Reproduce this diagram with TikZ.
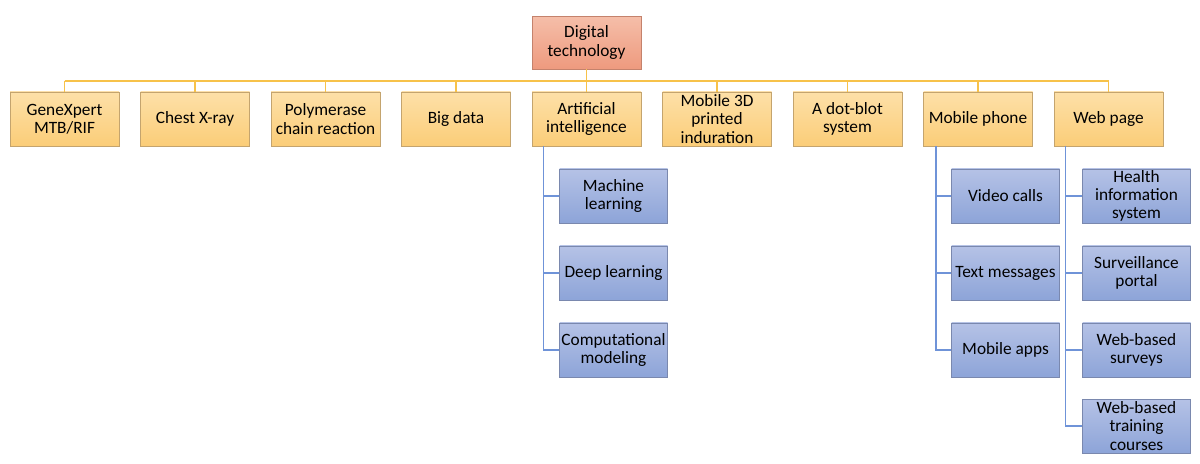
\documentclass[tikz,border=0pt]{standalone}
\usepackage{fontspec}
\setmainfont{Carlito}
\usepackage{tikz}
\usepackage{xcolor}
\usetikzlibrary{positioning,calc}
\definecolor{salmontop}{HTML}{F5BEA9}
\definecolor{salmonbot}{HTML}{EE9A7E}
\definecolor{salmonline}{HTML}{C4826C}
\definecolor{cattop}{HTML}{FDE0A8}
\definecolor{catbot}{HTML}{FBCD78}
\definecolor{catline}{HTML}{C4A46E}
\definecolor{subtop}{HTML}{B5C2E6}
\definecolor{subbot}{HTML}{8DA4D8}
\definecolor{subline}{HTML}{7A88AE}
\definecolor{catwire}{HTML}{F7C24A}
\definecolor{subwire}{HTML}{6F93D8}

\begin{document}
\begin{tikzpicture}[
    font=\fontsize{12.3}{13}\selectfont,
    topbox/.style={draw=salmonline, top color=salmontop, bottom color=salmonbot, minimum width=2.725cm, minimum height=1.325cm, align=center, inner sep=1pt},
    catbox/.style={draw=catline, top color=cattop, bottom color=catbot, minimum width=2.725cm, minimum height=1.35cm, align=center, inner sep=1pt},
    subbox/.style={draw=subline, top color=subtop, bottom color=subbot, minimum width=2.7cm, minimum height=1.35cm, align=center, inner sep=1pt},
    catlink/.style={draw=catwire, line width=1pt},
    sublink/.style={draw=subwire, line width=1pt}
]
    \useasboundingbox (0,0) rectangle (30,11.575);

    % Root
    \node[topbox] (dt) at (14.6625,10.51) {Digital\\technology};

    % Categories
    \node[catbox] (gx) at (1.6125,8.6) {GeneXpert\\MTB/RIF};
    \node[catbox] (cxr) at (4.875,8.6) {Chest X-ray};
    \node[catbox] (pcr) at (8.1375,8.6) {Polymerase\\chain reaction};
    \node[catbox] (bd) at (11.4,8.6) {Big data};
    \node[catbox] (ai) at (14.6625,8.6) {Artificial\\intelligence};
    \node[catbox] (m3d) at (17.925,8.6) {Mobile 3D\\printed\\induration};
    \node[catbox] (dot) at (21.1875,8.6) {A dot-blot\\system};
    \node[catbox] (mob) at (24.45,8.6) {Mobile phone};
    \node[catbox] (web) at (27.7125,8.6) {Web page};

    % Artificial intelligence
    \node[subbox] (ml) at (15.3375,6.675) {Machine\\learning};
    \node[subbox] (dl) at (15.3375,4.75) {Deep learning};
    \node[subbox] (cm) at (15.3375,2.825) {Computational\\modeling};

    % Mobile phone
    \node[subbox] (vc) at (25.1375,6.675) {Video calls};
    \node[subbox] (tm) at (25.1375,4.75) {Text messages};
    \node[subbox] (ma) at (25.1375,2.825) {Mobile apps};

    % Web page
    \node[subbox] (his) at (28.4125,6.675) {Health\\information\\system};
    \node[subbox] (sp) at (28.4125,4.75) {Surveillance\\portal};
    \node[subbox] (wbs) at (28.4125,2.825) {Web-based\\surveys};
    \node[subbox] (wbt) at (28.4125,0.925) {Web-based\\training\\courses};

    % Connectors
    \coordinate (bus) at (0,9.55);
    \draw[catlink] (dt.south) -- (dt.south |- bus);
    \draw[catlink] (gx.north |- bus) -- (web.north |- bus);
    \foreach \n in {gx,cxr,pcr,bd,ai,m3d,dot,mob,web}
        \draw[catlink] (\n.north) -- (\n.north |- bus);

    \foreach \n in {ml,dl,cm}
        \draw[sublink] ($(ai.south west)+(0.3,0)$) |- (\n.west);
    \foreach \n in {vc,tm,ma}
        \draw[sublink] ($(mob.south west)+(0.32,0)$) |- (\n.west);
    \foreach \n in {his,sp,wbs,wbt}
        \draw[sublink] ($(web.south west)+(0.3,0)$) |- (\n.west);
\end{tikzpicture}
\end{document}
